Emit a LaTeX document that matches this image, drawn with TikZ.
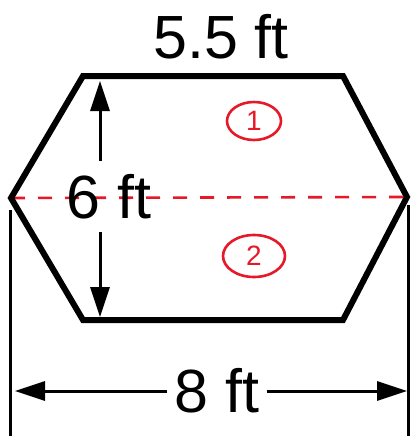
\documentclass[tikz,border=0pt]{standalone}
\usepackage{fontspec}
\setmainfont{Liberation Sans}
\usetikzlibrary{arrows.meta,shapes.geometric}
\definecolor{penred}{RGB}{230,25,40}
\tikzset{
  hexline/.style={line width=6pt, line join=miter},
  dimline/.style={line width=3pt},
  dimarrow/.style={line width=3pt, -{Triangle[length=30pt,width=19pt]}},
  dimlabel/.style={font=\fontsize{61}{72}\selectfont, inner sep=7pt},
  redpen/.style={penred, line width=2.6pt},
  redlabel/.style={text=penred, font=\fontsize{28}{32}\selectfont, inner sep=0pt}
}
\begin{document}
\begin{tikzpicture}[x=1pt,y=-1pt]
  \useasboundingbox (0,0) rectangle (411,436);
  % hexagon vertices
  \coordinate (tl) at (83,76);
  \coordinate (tr) at (343,76);
  \coordinate (r) at (407,197);
  \coordinate (br) at (343,320);
  \coordinate (bl) at (83,320);
  \coordinate (l) at (11,198);
  % red dashed diagonal
  \draw[redpen, dash pattern=on 14pt off 13pt] (l) -- (r);
  \draw[hexline] (tl) -- (tr) -- (r) -- (br) -- (bl) -- (l) -- cycle;
  % top label
  \node[dimlabel] (top) at (221,37) {5.5 ft};
  % height dimension
  \node[dimlabel, inner sep=0pt] (six) at (109,197) {6 ft};
  \coordinate (vup) at (100,161);
  \coordinate (vupend) at (100,81);
  \coordinate (vdn) at (100,232);
  \coordinate (vdnend) at (100,317);
  \draw[dimarrow] (vup) -- (vupend);
  \draw[dimarrow] (vdn) -- (vdnend);
  % width dimension
  \coordinate (el1) at (10,210);
  \coordinate (el1b) at (10,436);
  \coordinate (el2) at (408,205);
  \coordinate (el2b) at (408,436);
  \draw[dimline] (el1) -- (el1b);
  \draw[dimline] (el2) -- (el2b);
  \node[dimlabel] (eight) at (217,391) {8 ft};
  \coordinate (aL) at (15,391);
  \coordinate (aR) at (407,391);
  \draw[dimarrow] (eight.west) -- (aL);
  \draw[dimarrow] (eight.east) -- (aR);
  % red circled numbers
  \node[redpen, draw, ellipse, minimum width=54pt, minimum height=38pt, inner sep=0pt] (c1) at (254,121) {};
  \node[redlabel] (n1) at (c1.center) {1};
  \node[redpen, draw, ellipse, minimum width=62pt, minimum height=42pt, inner sep=0pt] (c2) at (254,256) {};
  \node[redlabel] (n2) at (c2.center) {2};
\end{tikzpicture}
\end{document}
